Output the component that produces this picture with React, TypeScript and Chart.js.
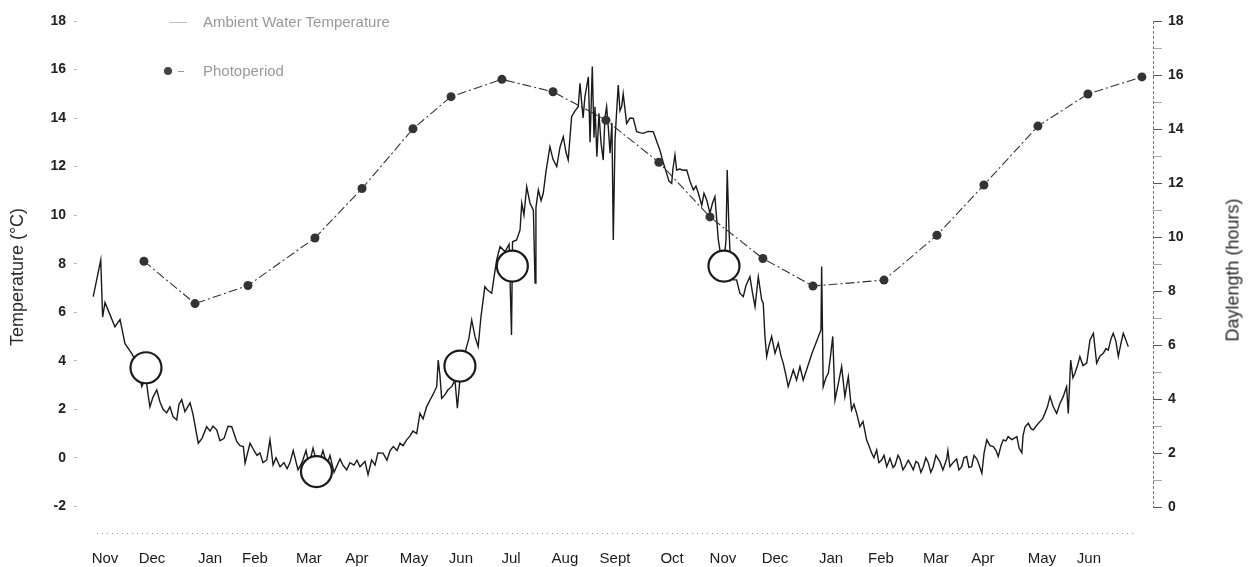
import React, { useEffect, useRef } from "react";
import { Chart, registerables } from "chart.js";

Chart.register(...registerables);

// Month labels on the time axis and where (in days since 1 Nov, year 1) they sit
const monthLabels = ["Nov", "Dec", "Jan", "Feb", "Mar", "Apr", "May", "Jun", "Jul", "Aug", "Sept", "Oct", "Nov", "Dec", "Jan", "Feb", "Mar", "Apr", "May", "Jun"];
const monthTickDays = [16.4, 43.9, 77.9, 104.2, 135.8, 163.9, 197.3, 224.8, 254.1, 285.7, 315.0, 348.4, 378.2, 408.7, 441.5, 470.7, 502.9, 530.4, 565.0, 592.5];

const tempTicks = [-2, 0, 2, 4, 6, 8, 10, 12, 14, 16, 18];
const dayTicks = [0, 1, 2, 3, 4, 5, 6, 7, 8, 9, 10, 11, 12, 13, 14, 15, 16, 17, 18];

// Photoperiod (daylength, hours) — [day, hours]
const photoperiod: [number, number][] = [
  [39.2, 9.11], [69.1, 7.54], [100.1, 8.21], [139.3, 9.97], [166.9, 11.8], [196.7, 14.01],
  [219.0, 15.2], [248.8, 15.84], [278.7, 15.38], [309.7, 14.33], [340.7, 12.77], [370.6, 10.75],
  [401.6, 9.21], [430.9, 8.19], [472.5, 8.41], [503.5, 10.07], [531.0, 11.93], [562.6, 14.11],
  [591.9, 15.3], [623.5, 15.93],
];

// Open-circle markers on the temperature trace — [day, °C]
const markers: [number, number][] = [
  [40.4, 3.71], [140.2, -0.57], [224.2, 3.78], [254.9, 7.9], [378.8, 7.9],
];

// Ambient water temperature — [day, °C]
const waterTemperature: [number, number][] = [
  [9.5, 6.64], [13.9, 8.15], [15.0, 5.8], [16.4, 6.4], [19.3, 5.9], [22.2, 5.4], [25.2, 5.7], [28.1, 4.7],
  [32.0, 4.3], [35.1, 3.9], [37.9, 2.93], [40.4, 3.3], [41.6, 2.6], [42.7, 2.1], [44.5, 2.5], [46.7, 2.8],
  [48.6, 2.3], [50.4, 2.0], [52.5, 1.85], [54.4, 2.1], [56.2, 1.7], [58.4, 1.56], [59.7, 2.2], [61.3, 2.4],
  [63.2, 1.9], [66.2, 2.26], [67.9, 1.8], [71.0, 0.6], [73.2, 0.8], [75.9, 1.28], [77.9, 1.1], [79.6, 1.3],
  [81.8, 1.15], [83.7, 0.7], [86.1, 0.8], [88.4, 1.3], [90.6, 1.28], [93.5, 0.67], [95.4, 0.5], [97.4, 0.46],
  [98.4, -0.22], [101.3, 0.6], [103.6, 0.3], [105.4, 0.1], [107.1, 0.2], [108.9, -0.2], [111.1, -0.09], [113.0, 0.74],
  [114.8, -0.3], [116.5, 0.0], [118.9, -0.37], [121.2, -0.2], [123.0, -0.45], [124.7, -0.2], [126.6, 0.3], [129.4, -0.5],
  [131.7, -0.2], [134.1, 0.3], [135.8, -0.3], [138.2, 0.4], [141.1, -0.4], [144.0, 0.3], [146.4, -0.3], [148.1, 0.1],
  [150.5, -0.6], [154.0, -0.05], [155.7, -0.3], [157.9, -0.5], [159.8, -0.2], [162.2, -0.3], [163.9, -0.1], [165.7, -0.37],
  [168.6, -0.15], [170.4, -0.7], [172.5, -0.09], [174.5, -0.3], [176.2, 0.2], [179.2, 0.19], [181.5, -0.1], [183.3, 0.3],
  [185.2, 0.46], [187.4, 0.3], [189.1, 0.6], [190.9, 0.5], [193.0, 0.74], [195.0, 0.9], [196.7, 1.1], [198.9, 1.0],
  [200.8, 1.83], [202.6, 1.6], [204.7, 2.1], [206.7, 2.38], [208.4, 2.6], [210.6, 2.93], [211.5, 4.03], [212.5, 3.4],
  [213.5, 2.45], [215.5, 2.6], [217.2, 2.8], [219.4, 2.93], [221.3, 3.2], [222.7, 2.04], [224.2, 3.2], [226.1, 4.0],
  [228.1, 4.58], [229.4, 4.9], [231.1, 5.68], [233.0, 5.0], [234.9, 4.58], [236.5, 5.8], [238.8, 7.05], [240.6, 6.9],
  [242.8, 6.78], [244.1, 7.4], [245.7, 8.15], [247.7, 8.7], [250.6, 8.5], [253.0, 8.8], [254.4, 5.06], [255.0, 8.9],
  [257.4, 8.98], [259.4, 9.39], [260.4, 10.49], [261.7, 10.0], [263.3, 11.17], [265.2, 10.5], [267.2, 10.2], [268.2, 7.2],
  [268.7, 10.3], [270.1, 11.04], [271.7, 10.6], [273.0, 10.9], [274.6, 11.8], [276.9, 12.82], [278.7, 12.3], [280.9, 12.0],
  [282.8, 12.8], [284.7, 13.23], [286.3, 12.6], [287.6, 12.27], [289.6, 14.06], [291.6, 14.3], [293.5, 14.47], [294.5, 15.43],
  [296.3, 14.0], [297.4, 14.88], [299.4, 15.7], [300.4, 13.0], [301.7, 16.12], [302.7, 13.2], [303.3, 14.47], [304.4, 12.41],
  [305.6, 14.2], [306.8, 13.0], [308.1, 12.27], [309.1, 14.0], [310.1, 14.47], [311.2, 13.5], [312.1, 12.55], [313.2, 13.8],
  [314.0, 8.98], [315.0, 13.1], [315.9, 14.2], [316.9, 15.36], [317.9, 14.3], [318.9, 14.47], [319.8, 15.0], [321.8, 13.78],
  [323.8, 14.0], [325.7, 13.99], [327.7, 13.44], [329.6, 13.4], [331.6, 13.37], [334.3, 13.45], [337.4, 13.44], [339.6, 13.0],
  [341.3, 12.68], [343.1, 12.2], [345.2, 11.72], [346.6, 11.4], [348.2, 11.31], [348.9, 11.9], [350.1, 12.48], [351.1, 11.86],
  [353.0, 11.9], [354.8, 11.85], [357.0, 11.86], [358.9, 11.4], [360.9, 11.04], [362.4, 11.2], [363.8, 10.9], [365.8, 10.4],
  [367.1, 10.9], [368.7, 10.62], [370.6, 10.08], [372.1, 10.5], [373.5, 10.76], [375.5, 8.98], [377.0, 8.3], [378.8, 8.0],
  [380.0, 9.0], [380.7, 11.86], [381.7, 9.5], [382.9, 7.6], [384.2, 7.33], [386.2, 7.33], [388.1, 6.78], [390.1, 6.64],
  [391.7, 7.1], [394.0, 7.46], [395.5, 6.8], [397.0, 6.23], [398.9, 7.46], [400.9, 6.5], [401.8, 6.37], [402.8, 5.0],
  [403.8, 4.17], [405.1, 4.6], [406.7, 5.0], [408.7, 4.31], [410.6, 4.72], [412.2, 4.2], [413.5, 3.9], [415.1, 3.4],
  [416.4, 2.93], [418.0, 3.3], [419.4, 3.62], [421.3, 3.21], [423.3, 3.76], [425.2, 3.2], [430.3, 4.3], [435.6, 5.27],
  [436.0, 7.88], [436.9, 2.93], [438.5, 3.3], [439.9, 3.48], [441.2, 4.2], [442.5, 5.0], [443.8, 2.38], [445.6, 3.0],
  [447.7, 3.76], [449.6, 2.52], [451.6, 3.34], [453.5, 1.97], [454.9, 2.2], [456.5, 1.83], [458.4, 1.28], [460.2, 1.5],
  [462.3, 0.74], [463.7, 0.5], [465.3, 0.19], [466.6, 0.0], [468.2, 0.32], [469.5, -0.2], [471.1, -0.09], [472.5, 0.1],
  [474.1, -0.37], [476.0, -0.02], [477.8, -0.4], [479.0, -0.3], [480.7, 0.1], [481.9, -0.05], [483.6, -0.5], [484.8, -0.37],
  [486.7, -0.1], [488.3, -0.3], [489.6, -0.5], [491.2, -0.15], [492.6, -0.22], [494.1, -0.6], [495.5, -0.37], [497.0, 0.0],
  [498.4, -0.2], [499.9, -0.6], [501.3, -0.37], [502.9, 0.1], [505.2, -0.16], [507.0, -0.5], [509.2, -0.05], [509.9, 0.3],
  [511.1, -0.37], [512.9, -0.2], [515.0, -0.05], [516.4, -0.5], [518.0, -0.37], [519.3, 0.0], [520.9, 0.05], [522.2, -0.4],
  [523.8, -0.37], [525.2, 0.1], [526.9, -0.05], [528.2, -0.3], [529.8, -0.64], [531.1, 0.2], [532.7, 0.74], [534.6, 0.5],
  [536.5, 0.46], [538.1, 0.3], [539.4, 0.05], [541.0, 0.5], [542.3, 0.74], [543.9, 0.7], [545.2, 0.87], [547.4, 0.75],
  [550.3, 0.87], [551.6, 0.4], [553.2, 0.2], [553.9, 0.9], [555.1, 1.28], [557.0, 1.42], [558.6, 1.2], [559.9, 1.15],
  [561.5, 1.3], [563.8, 1.49], [565.3, 1.6], [566.7, 1.83], [568.2, 2.1], [569.7, 2.52], [571.6, 2.1], [573.6, 1.83],
  [575.5, 2.24], [577.3, 2.5], [579.4, 2.93], [580.4, 1.83], [581.8, 4.03], [583.1, 3.3], [584.3, 3.48], [585.8, 3.8],
  [587.2, 4.17], [589.0, 3.8], [591.2, 3.9], [593.1, 4.86], [595.1, 5.13], [597.0, 3.9], [599.0, 4.2], [600.9, 4.31],
  [602.5, 4.5], [603.8, 4.44], [605.4, 4.9], [606.7, 5.13], [608.3, 4.8], [609.7, 4.17], [611.2, 4.7], [612.6, 5.13],
  [613.9, 4.9], [615.5, 4.58],
];

const FONT = "'Liberation Sans', Arial, Helvetica, sans-serif";

export default function App() {
  const canvasRef = useRef<HTMLCanvasElement | null>(null);

  useEffect(() => {
    const canvas = canvasRef.current;
    if (!canvas) return;

    // dotted axis lines: right axis only spans 0–18 h, bottom axis dotted
    const axisLines = {
      id: "axisLines",
      beforeDatasetsDraw(chart: any) {
        const s = chart.scales.y1;
        const { left, right, bottom } = chart.chartArea;
        const c = chart.ctx;
        c.save();
        c.lineWidth = 1;
        c.strokeStyle = "#777";
        c.setLineDash([3, 2]);
        c.beginPath();
        c.moveTo(right + 0.5, s.getPixelForValue(18));
        c.lineTo(right + 0.5, s.getPixelForValue(0));
        c.stroke();
        c.strokeStyle = "#9a9a9a";
        c.setLineDash([1, 4]);
        c.beginPath();
        c.moveTo(left + 20, bottom + 0.5);
        c.lineTo(right - 20, bottom + 0.5);
        c.stroke();
        c.restore();
      },
    };

    const chart = new Chart(canvas, {
      type: "line",
      data: {
        datasets: [
          {
            label: "Photoperiod",
            data: photoperiod.map(([x, y]) => ({ x, y })),
            yAxisID: "y1",
            borderColor: "#333",
            borderWidth: 1.1,
            borderDash: [9, 3, 2, 3],
            pointRadius: 4.5,
            pointBackgroundColor: "#333",
            pointBorderWidth: 0,
            tension: 0,
            order: 0,
          },
          {
            label: "Markers",
            data: markers.map(([x, y]) => ({ x, y })),
            yAxisID: "y",
            showLine: false,
            pointRadius: 15.5,
            pointBackgroundColor: "#ffffff",
            pointBorderColor: "#1a1a1a",
            pointBorderWidth: 2.2,
            order: 1,
          },
          {
            label: "Ambient Water Temperature",
            data: waterTemperature.map(([x, y]) => ({ x, y })),
            yAxisID: "y",
            borderColor: "#1a1a1a",
            borderWidth: 1.4,
            pointRadius: 0,
            tension: 0,
            order: 2,
          },
        ],
      },
      options: {
        responsive: false,
        animation: false,
        layout: { padding: { top: 21, left: 0, right: 0, bottom: 0 } },
        plugins: { legend: { display: false }, tooltip: { enabled: false } },
        scales: {
          x: {
            type: "linear",
            min: 0,
            max: 630,
            afterBuildTicks: (s: any) => {
              s.ticks = monthTickDays.map((v) => ({ value: v }));
            },
            afterFit: (s: any) => {
              s.height = 34;
            },
            ticks: {
              autoSkip: false,
              maxRotation: 0,
              padding: 9,
              color: "#1a1a1a",
              font: { family: FONT, size: 15 },
              callback: (_v: any, i: number) => monthLabels[i],
            },
            grid: { display: false },
            border: { display: false },
          },
          y: {
            type: "linear",
            position: "left",
            min: -3.1,
            max: 18,
            afterBuildTicks: (s: any) => {
              s.ticks = tempTicks.map((v) => ({ value: v }));
            },
            afterFit: (s: any) => {
              s.width = 77;
            },
            ticks: {
              padding: 8,
              color: "#222",
              font: { family: FONT, size: 14, weight: "bold" },
            },
            grid: { display: true, drawOnChartArea: false, tickLength: 3, color: "#bbb" },
            border: { display: false },
            title: {
              display: true,
              text: "Temperature (°C)",
              color: "#2a2a2a",
              font: { family: FONT, size: 18 },
              padding: { top: 7, bottom: 0 },
            },
          },
          y1: {
            type: "linear",
            position: "right",
            min: -0.95,
            max: 18,
            afterBuildTicks: (s: any) => {
              s.ticks = dayTicks.map((v) => ({ value: v }));
            },
            afterFit: (s: any) => {
              s.width = 106;
            },
            ticks: {
              padding: 6,
              color: "#222",
              font: { family: FONT, size: 14, weight: "bold" },
              callback: (v: any) => (Number(v) % 2 === 0 ? String(v) : ""),
            },
            grid: {
              display: true,
              drawOnChartArea: false,
              tickLength: 9,
              color: (c: any) => (c.tick && c.tick.value % 2 === 0 ? "#555" : "#aaa"),
            },
            border: { display: false },
          },
        },
      },
      plugins: [axisLines],
    });

    return () => chart.destroy();
  }, []);

  return (
    <div style={{ position: "fixed", left: 0, top: 0, width: 1259, height: 567, background: "#fff", overflow: "hidden" }}>
      <canvas ref={canvasRef} width={1259} height={567} style={{ position: "absolute", left: 0, top: 0, width: 1259, height: 567 }} />
      {/* legend */}
      <div style={{ position: "absolute", left: 170, top: 22, width: 17, height: 0, borderTop: "1px solid #bbb" }} />
      <div style={{ position: "absolute", left: 203, top: 13, font: `15px ${FONT}`, color: "#999", whiteSpace: "nowrap", lineHeight: "18px" }}>
        Ambient Water Temperature
      </div>
      <div style={{ position: "absolute", left: 164, top: 67, width: 8, height: 8, borderRadius: 4, background: "#444" }} />
      <div style={{ position: "absolute", left: 178, top: 71, width: 6, height: 0, borderTop: "1px solid #999" }} />
      <div style={{ position: "absolute", left: 203, top: 62, font: `15px ${FONT}`, color: "#999", whiteSpace: "nowrap", lineHeight: "18px" }}>
        Photoperiod
      </div>
      {/* right axis title, reading bottom-to-top */}
      <div
        style={{
          position: "absolute",
          left: 1233,
          top: 270,
          transform: "translate(-50%, -50%) rotate(-90deg)",
          font: `18px ${FONT}`,
          color: "#2a2a2a",
          whiteSpace: "nowrap",
        }}
      >
        Daylength (hours)
      </div>
    </div>
  );
}
